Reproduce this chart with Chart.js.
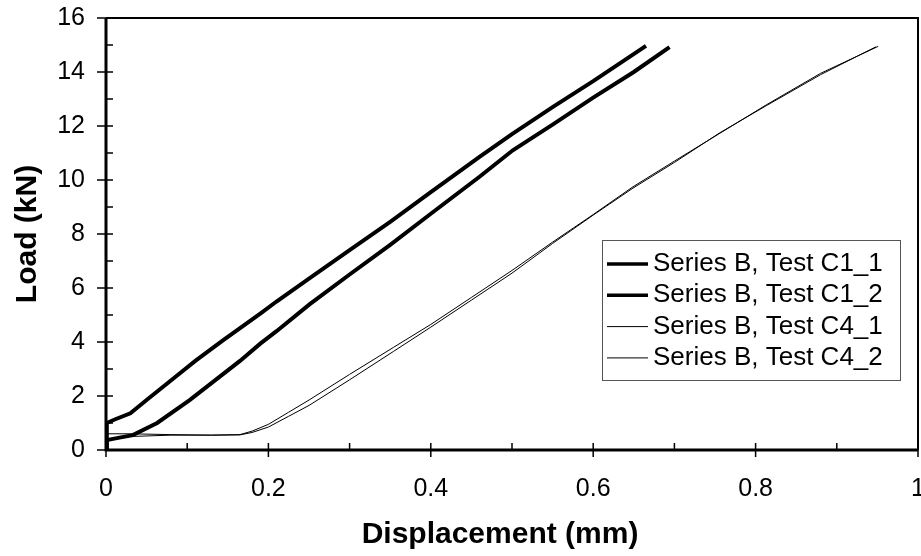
<!DOCTYPE html>
<html>
<head>
<meta charset="utf-8">
<script src="https://cdn.jsdelivr.net/npm/chart.js@4"></script>
<style>
  html, body { margin: 0; padding: 0; background: #fff; }
  #wrap { width: 921px; height: 556px; }
</style>
</head>
<body>
<div id="wrap"><canvas id="load-chart" width="921" height="556"></canvas></div>
<script>
// displacement (mm) / load (kN)
var c11Disp = [0, 0.001, 0.01, 0.03, 0.05, 0.083, 0.11, 0.144, 0.19, 0.21, 0.25, 0.3, 0.35, 0.4, 0.46, 0.5, 0.55, 0.6, 0.665];
var c11Load = [0, 1.0, 1.12, 1.36, 1.85, 2.65, 3.3, 4.06, 5.05, 5.5, 6.35, 7.4, 8.45, 9.55, 10.86, 11.7, 12.7, 13.66, 14.97];

var c12Disp = [0, 0.001, 0.015, 0.033, 0.063, 0.103, 0.135, 0.165, 0.19, 0.21, 0.251, 0.3, 0.35, 0.4, 0.46, 0.501, 0.55, 0.6, 0.65, 0.694];
var c12Load = [0, 0.37, 0.45, 0.55, 1.0, 1.85, 2.6, 3.3, 3.94, 4.4, 5.4, 6.5, 7.6, 8.75, 10.12, 11.1, 12.05, 13.05, 14.0, 14.92];

var c41Disp = [0, 0.001, 0.03, 0.08, 0.13, 0.165, 0.18, 0.2, 0.225, 0.25, 0.3, 0.354, 0.4, 0.45, 0.5, 0.55, 0.6, 0.649, 0.7, 0.756, 0.813, 0.88, 0.951];
var c41Load = [0, 0.6, 0.6, 0.57, 0.55, 0.57, 0.7, 0.95, 1.4, 1.85, 2.8, 3.8, 4.65, 5.65, 6.65, 7.7, 8.72, 9.75, 10.7, 11.73, 12.78, 13.95, 14.95];

var c42Disp = [0, 0.001, 0.03, 0.08, 0.13, 0.165, 0.18, 0.2, 0.225, 0.25, 0.3, 0.354, 0.4, 0.45, 0.5, 0.55, 0.6, 0.649, 0.7, 0.756, 0.813, 0.88, 0.948];
var c42Load = [0, 0.35, 0.5, 0.55, 0.55, 0.56, 0.65, 0.85, 1.25, 1.65, 2.6, 3.65, 4.55, 5.55, 6.55, 7.65, 8.7, 9.7, 10.65, 11.75, 12.75, 13.9, 14.93];

var seriesNames = ["Series B, Test C1_1", "Series B, Test C1_2", "Series B, Test C4_1", "Series B, Test C4_2"];

var xTicks = [0, 0.2, 0.4, 0.6, 0.8, 1];
var yTicks = [0, 2, 4, 6, 8, 10, 12, 14, 16];
var xTitle = 'Displacement (mm)';

function pts(xs, ys) {
  return xs.map(function (x, i) { return { x: x, y: ys[i] }; });
}

var font = "'Liberation Sans', Arial, sans-serif";

// frame, inner/minor tick marks, x title and the boxed legend inside the plot
var framePlugin = {
  id: 'frame',
  afterDraw: function (chart) {
    var ctx = chart.ctx, a = chart.chartArea;
    var xs = chart.scales.x, ys = chart.scales.y;
    ctx.save();
    ctx.strokeStyle = '#000';
    ctx.lineWidth = 2;
    ctx.beginPath();
    ctx.moveTo(a.left, a.top); ctx.lineTo(a.right, a.top); ctx.lineTo(a.right, a.bottom);
    ctx.stroke();
    ctx.lineWidth = 3;
    ctx.beginPath();
    ctx.moveTo(a.left, a.top); ctx.lineTo(a.left, a.bottom); ctx.lineTo(a.right, a.bottom);
    ctx.stroke();

    ctx.lineWidth = 1.5;
    ctx.beginPath();
    for (var v = 0; v <= 16; v++) {
      var py = ys.getPixelForValue(v);
      var major = v % 2 === 0;
      ctx.moveTo(major ? a.left - 9 : a.left, py);
      ctx.lineTo(a.left + 7, py);
    }
    for (var k = 0; k <= 10; k++) {
      var px = xs.getPixelForValue(k / 10);
      var maj = k % 2 === 0;
      ctx.moveTo(px, maj ? a.bottom + 7 : a.bottom);
      ctx.lineTo(px, a.bottom - 7);
    }
    ctx.stroke();

    // x axis title (sits a little left of the plot centre in the original)
    ctx.fillStyle = '#000';
    ctx.font = 'bold 30px ' + font;
    ctx.textAlign = 'center';
    ctx.textBaseline = 'alphabetic';
    ctx.fillText(xTitle, 500, 543);

    // legend
    var bx = 602, by = 240, bw = 298, bh = 140;
    ctx.fillStyle = '#fff';
    ctx.fillRect(bx, by, bw, bh);
    ctx.strokeStyle = '#555';
    ctx.lineWidth = 1;
    ctx.strokeRect(bx + 0.5, by + 0.5, bw, bh);
    ctx.font = '26px ' + font;
    ctx.fillStyle = '#000';
    ctx.textBaseline = 'middle';
    ctx.textAlign = 'left';
    chart.data.datasets.forEach(function (ds, i) {
      var ry = by + 24 + i * 31.3;
      ctx.strokeStyle = '#000';
      ctx.lineWidth = ds.borderWidth > 2 ? 3.5 : 1;
      ctx.beginPath();
      ctx.moveTo(bx + 5, ry); ctx.lineTo(bx + 46, ry);
      ctx.stroke();
      ctx.fillText(ds.label, bx + 51, ry);
    });
    ctx.restore();
  }
};

new Chart(document.getElementById("load-chart"), {
  type: 'scatter',
  data: {
    datasets: [
      { label: seriesNames[0], data: pts(c11Disp, c11Load), borderColor: '#000', borderWidth: 4, showLine: true, pointRadius: 0, tension: 0 },
      { label: seriesNames[1], data: pts(c12Disp, c12Load), borderColor: '#000', borderWidth: 4, showLine: true, pointRadius: 0, tension: 0 },
      { label: seriesNames[2], data: pts(c41Disp, c41Load), borderColor: '#000', borderWidth: 1, showLine: true, pointRadius: 0, tension: 0 },
      { label: seriesNames[3], data: pts(c42Disp, c42Load), borderColor: '#000', borderWidth: 1, showLine: true, pointRadius: 0, tension: 0 }
    ]
  },
  options: {
    responsive: false,
    animation: false,
    layout: { padding: { left: 0, right: 3, top: 18, bottom: 0 } },
    plugins: {
      legend: { display: false },
      tooltip: { enabled: false }
    },
    scales: {
      x: {
        type: 'linear', min: 0, max: 1,
        afterBuildTicks: function (s) { s.ticks = xTicks.map(function (v) { return { value: v }; }); },
        afterFit: function (s) { s.height = 106; s.paddingLeft = 0; s.paddingRight = 0; },
        grid: { display: false, drawTicks: true, tickLength: 7 },
        border: { display: false },
        ticks: { color: '#000', padding: 17, maxRotation: 0, font: { family: font, size: 25 },
                 callback: function (v) { return String(v); } },
        title: { display: false }
      },
      y: {
        type: 'linear', min: 0, max: 16,
        afterBuildTicks: function (s) { s.ticks = yTicks.map(function (v) { return { value: v }; }); },
        afterFit: function (s) { s.width = 106; s.paddingTop = 0; s.paddingBottom = 0; },
        grid: { display: false, drawTicks: true, tickLength: 9 },
        border: { display: false },
        ticks: { color: '#000', padding: 12, font: { family: font, size: 25 } },
        title: { display: true, text: 'Load (kN)', color: '#000',
                 font: { family: font, size: 30, weight: 'bold', lineHeight: 1.2 }, padding: { top: 9.5, bottom: 0 } }
      }
    }
  },
  plugins: [framePlugin]
});
</script>
</body>
</html>
